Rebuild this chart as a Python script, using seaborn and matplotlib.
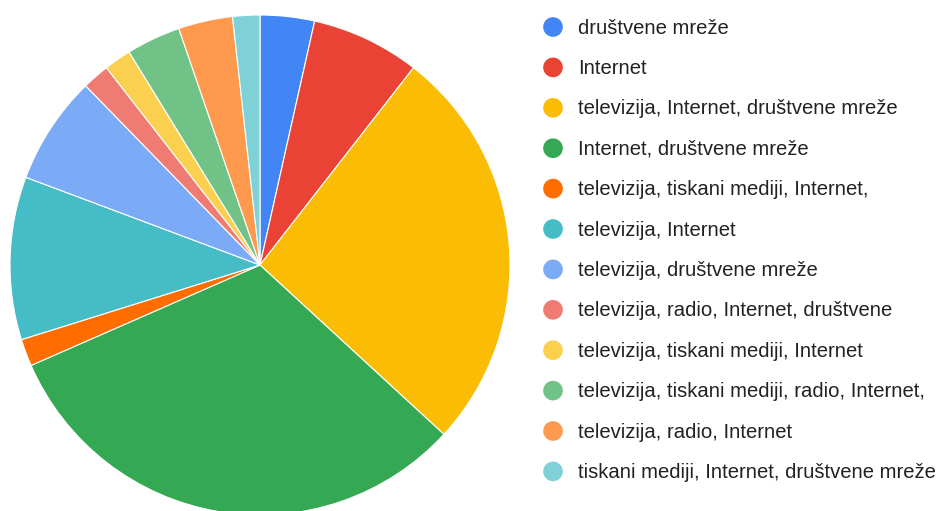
import matplotlib
matplotlib.use("Agg")
import matplotlib.pyplot as plt
import seaborn as sns
import pandas as pd

categories = [
    "društvene mreže",
    "Internet",
    "televizija, Internet, društvene mreže",
    "Internet, društvene mreže",
    "televizija, tiskani mediji, Internet,",
    "televizija, Internet",
    "televizija, društvene mreže",
    "televizija, radio, Internet, društvene",
    "televizija, tiskani mediji, Internet",
    "televizija, tiskani mediji, radio, Internet,",
    "televizija, radio, Internet",
    "tiskani mediji, Internet, društvene mreže",
]
counts = [2, 4, 15, 18, 1, 6, 4, 1, 1, 2, 2, 1]
colors = ["#4285F4", "#EA4335", "#FBBC04", "#34A853", "#FF6D01", "#46BDC6",
          "#7BAAF7", "#F07B72", "#FCD04F", "#71C287", "#FF994D", "#7ED1D7"]

sns.set_theme(style="white")
plt.rcParams['font.family'] = ['Liberation Sans', 'DejaVu Sans']

W, H = 940, 511
fig = plt.figure(figsize=(W / 100, H / 100), dpi=100)

# pie axes: bbox x 10..510, y 15..515 (pixels from top)
cx, cy, r = 260, 265, 250
ax = fig.add_axes([(cx - r) / W, (H - (cy + r)) / H, 2 * r / W, 2 * r / H])
ax.pie(counts, colors=colors, startangle=90, counterclock=False,
       wedgeprops=dict(edgecolor="white", linewidth=0.8))
ax.set_xlim(-1, 1)
ax.set_ylim(-1, 1)
ax.set_aspect("auto")
ax.axis("off")

# legend axes in pixel coordinates
lax = fig.add_axes([0, 0, 1, 1])
leg = pd.DataFrame({
    "x": [553] * len(categories),
    "y": [27 + 40.4 * i for i in range(len(categories))],
    "cat": categories,
})
sns.scatterplot(data=leg, x="x", y="y", hue="cat", palette=colors,
                hue_order=categories, s=200, edgecolor="none", legend=False, ax=lax)
lax.set_xlim(0, W)
lax.set_ylim(H, 0)
lax.axis("off")
for _, row in leg.iterrows():
    lax.text(578, row["y"] + 1, row["cat"], fontsize=14.6, color="#222222",
             va="center", ha="left")

fig.savefig("out.png", dpi=100)
